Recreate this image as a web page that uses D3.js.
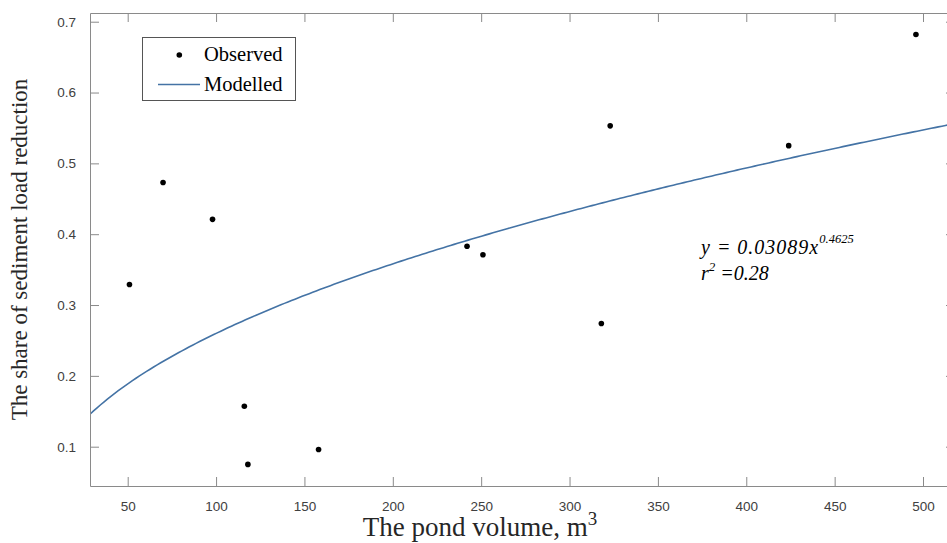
<!DOCTYPE html>
<html>
<head>
<meta charset="utf-8">
<script src="https://cdn.jsdelivr.net/npm/d3@7"></script>
<style>
  body { margin: 0; background: #fff; }
  svg { display: block; }
</style>
</head>
<body>
<div id="chart"></div>
<script>
// observed points: pond volume (m3) and share of sediment load reduction
var pondVolume = [51, 70, 98, 116, 118, 158, 242, 251, 318, 323, 424, 496];
var loadShare  = [0.329, 0.473, 0.421, 0.157, 0.075, 0.096, 0.383, 0.371, 0.274, 0.553, 0.525, 0.682];

// fitted model y = a * x^b
var fitA = 0.03089, fitB = 0.4625;

var xTicks = [50, 100, 150, 200, 250, 300, 350, 400, 450, 500];
var yTicks = [0.1, 0.2, 0.3, 0.4, 0.5, 0.6, 0.7];

var W = 947, H = 543;
var margin = {top: 13, right: -8, bottom: 57, left: 90};
var width  = W - margin.left - margin.right,
    height = H - margin.top - margin.bottom;

var axisCol = "#8a8a8a", labelCol = "#404040";

var svg = d3.select("#chart").append("svg")
  .attr("width", W)
  .attr("height", H);

var xScale = d3.scaleLinear().domain([28.67, 518.1]).range([0, width]);
var yScale = d3.scaleLinear().domain([0.0445, 0.7123]).range([height, 0]);

var g = svg.append("g")
  .attr("transform", "translate(" + margin.left + "," + margin.top + ")");

var clip = g.append("clipPath").attr("id", "plotClip")
  .append("rect").attr("width", width).attr("height", height);

// model curve, sampled on the fitted formula over the axis range
var curveX = d3.range(xScale.domain()[0], xScale.domain()[1] + 1, 2);
var line = d3.line()
  .x(function (d) { return xScale(d); })
  .y(function (d) { return yScale(fitA * Math.pow(d, fitB)); });

g.append("path")
  .datum(curveX)
  .attr("clip-path", "url(#plotClip)")
  .attr("fill", "none")
  .attr("stroke", "#4473a5")
  .attr("stroke-width", 1.6)
  .attr("d", line);

// observed dots
g.append("g").selectAll("circle")
  .data(pondVolume)
  .enter().append("circle")
  .attr("cx", function (d) { return xScale(d); })
  .attr("cy", function (d, i) { return yScale(loadShare[i]); })
  .attr("r", 2.8)
  .attr("fill", "#000");

// axes (box with inward ticks on all sides, like matlab)
function styleAxis(sel) {
  sel.select(".domain").attr("stroke", axisCol);
  sel.selectAll(".tick line").attr("stroke", axisCol);
  sel.selectAll(".tick text")
    .attr("fill", labelCol)
    .style("font-family", "'Liberation Sans', Arial, sans-serif")
    .style("font-size", "13.5px");
}

var fmtY = d3.format(".1f");

g.append("g")
  .attr("transform", "translate(0," + height + ")")
  .call(d3.axisBottom(xScale).tickValues(xTicks).tickSizeInner(-9).tickSizeOuter(0).tickPadding(15))
  .call(styleAxis);

g.append("g")
  .call(d3.axisTop(xScale).tickValues(xTicks).tickSizeInner(-9).tickSizeOuter(0).tickFormat(""))
  .call(styleAxis);

g.append("g")
  .call(d3.axisLeft(yScale).tickValues(yTicks).tickSizeInner(-9).tickSizeOuter(0).tickPadding(14).tickFormat(fmtY))
  .call(styleAxis);

g.append("g")
  .attr("transform", "translate(" + width + ",0)")
  .call(d3.axisRight(yScale).tickValues(yTicks).tickSizeInner(-9).tickSizeOuter(0).tickFormat(""))
  .call(styleAxis);

// axis titles
var xTitle = svg.append("text")
  .attr("x", 480)
  .attr("y", 536)
  .attr("text-anchor", "middle")
  .attr("fill", "#262626")
  .style("font-family", "'Liberation Serif', 'Times New Roman', serif")
  .style("font-size", "27px")
  .text("The pond volume, m");
xTitle.append("tspan")
  .attr("dy", -11)
  .style("font-size", "19px")
  .text("3");

svg.append("text")
  .attr("transform", "translate(27," + (margin.top + height / 2) + ") rotate(-90)")
  .attr("text-anchor", "middle")
  .attr("fill", "#262626")
  .style("font-family", "'Liberation Serif', 'Times New Roman', serif")
  .style("font-size", "23px")
  .text("The share of sediment load reduction");

// legend
var legend = svg.append("g");
legend.append("rect")
  .attr("x", 142.5).attr("y", 37.5)
  .attr("width", 153).attr("height", 63)
  .attr("fill", "#fff")
  .attr("stroke", "#555")
  .attr("stroke-width", 1);
legend.append("circle")
  .attr("cx", 179.3).attr("cy", 55).attr("r", 2.8).attr("fill", "#000");
legend.append("line")
  .attr("x1", 158).attr("x2", 200).attr("y1", 84.5).attr("y2", 84.5)
  .attr("stroke", "#4473a5").attr("stroke-width", 1.6);
legend.selectAll("text.lg")
  .data(["Observed", "Modelled"])
  .enter().append("text")
  .attr("class", "lg")
  .attr("x", 204)
  .attr("y", function (d, i) { return 61 + i * 29.5; })
  .attr("fill", "#000")
  .style("font-family", "'Liberation Serif', 'Times New Roman', serif")
  .style("font-size", "20.5px")
  .text(function (d) { return d; });

// equation annotation
var eqFont = "'Liberation Serif', 'Times New Roman', serif";
var eq1 = svg.append("text")
  .attr("x", 701).attr("y", 254)
  .style("font-family", eqFont).style("font-style", "italic").style("font-size", "20px")
  .style("letter-spacing", "1px")
  .text("y = " + fitA + "x");
eq1.append("tspan").attr("dy", -11).style("font-size", "12.5px").style("letter-spacing", "0px").text(fitB);

var eq2 = svg.append("text")
  .attr("x", 701).attr("y", 280)
  .style("font-family", eqFont).style("font-style", "italic").style("font-size", "20px")
  .text("r");
eq2.append("tspan").attr("dy", -9).style("font-size", "13px").text("2");
eq2.append("tspan").attr("dy", 9).text(" =0.28");
</script>
</body>
</html>
